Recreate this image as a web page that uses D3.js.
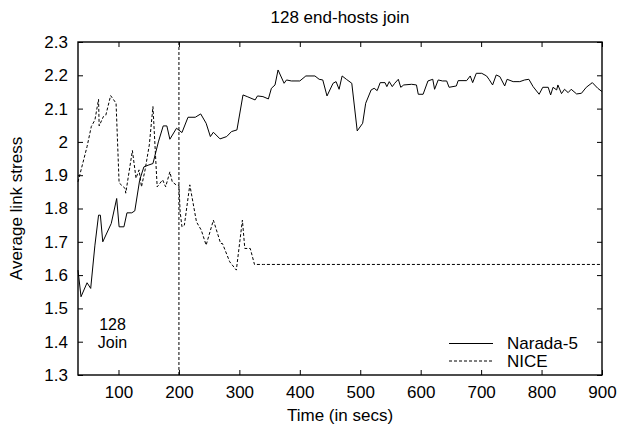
<!DOCTYPE html>
<html><head><meta charset="utf-8">
<script src="https://cdn.jsdelivr.net/npm/d3@7"></script>
<style>
html,body{margin:0;padding:0;background:#fff;}
svg{display:block;}
text{font-family:"Liberation Sans",Arial,Helvetica,sans-serif;fill:#000;}
</style></head>
<body>
<svg id="chart" width="618" height="428"></svg>
<script>
const title = "128 end-hosts join";
const xLabel = "Time (in secs)";
const yLabel = "Average link stress";
const xTicks = [100,200,300,400,500,600,700,800,900];
const yTicks = [1.3,1.4,1.5,1.6,1.7,1.8,1.9,2.0,2.1,2.2,2.3];
const yTickLabels = ["1.3","1.4","1.5","1.6","1.7","1.8","1.9","2","2.1","2.2","2.3"];
const seriesNames = ["Narada-5","NICE"];
const joinTime = 200;
const joinLabel = ["128","Join"];

const naradaT = [33,38,48,54,61,67,70,74,88,97,101,109,114,122,127,135,142,149,157,166,174,180,185,196,205,215,227,236,245,252,257,268,279,287,296,306,313,326,330,339,348,353,359,364,374,378,386,400,410,425,432,438,445,455,460,465,470,477,486,495,504,509,518,523,528,533,541,544,548,553,557,563,567,572,585,593,596,604,612,620,623,629,636,643,647,659,662,676,682,686,692,701,709,713,719,725,731,739,743,753,764,772,779,786,796,802,811,815,819,825,827,833,838,844,849,858,866,874,884,893,900];
const naradaV = [1.615,1.535,1.577,1.560,1.690,1.780,1.780,1.700,1.755,1.830,1.745,1.745,1.787,1.787,1.793,1.885,1.925,1.930,1.935,2.000,2.048,2.048,2.008,2.041,2.028,2.074,2.074,2.084,2.056,2.016,2.029,2.009,2.016,2.031,2.036,2.141,2.136,2.126,2.138,2.136,2.129,2.161,2.171,2.216,2.176,2.186,2.183,2.183,2.198,2.198,2.188,2.186,2.138,2.176,2.181,2.158,2.198,2.188,2.176,2.033,2.056,2.116,2.156,2.161,2.154,2.178,2.178,2.166,2.181,2.166,2.176,2.188,2.164,2.171,2.173,2.171,2.143,2.143,2.183,2.188,2.158,2.186,2.183,2.183,2.164,2.168,2.184,2.184,2.198,2.178,2.206,2.206,2.198,2.188,2.171,2.201,2.196,2.168,2.188,2.181,2.181,2.186,2.188,2.166,2.143,2.164,2.164,2.141,2.164,2.156,2.171,2.145,2.158,2.148,2.158,2.144,2.146,2.164,2.178,2.161,2.151];

const niceT = [33,48,55,61,67,68,75,79,87,96,101,111,112,123,129,134,138,144,151,157,164,173,178,185,189,196,200,202,205,209,218,229,237,245,257,269,272,284,295,305,309,318,325,340,900];
const niceV = [1.880,1.986,2.046,2.066,2.128,2.048,2.076,2.080,2.139,2.116,1.877,1.860,1.846,1.974,1.891,1.916,1.865,1.916,1.991,2.106,1.865,1.886,1.865,1.910,1.880,1.870,1.870,1.790,1.745,1.750,1.871,1.760,1.735,1.690,1.765,1.695,1.695,1.640,1.615,1.765,1.680,1.680,1.632,1.632,1.632];

const svg = d3.select("#chart");
const L = 78, R = 602, T = 42, B = 375;
const x = d3.scaleLinear().domain([33,900]).range([L,R]);
const y = d3.scaleLinear().domain([1.3,2.3]).range([B,T]);
const FS = 17;

// axes with inward ticks
const gx = svg.append("g").attr("transform",`translate(0,${B})`)
  .call(d3.axisBottom(x).tickValues(xTicks).tickSize(-5).tickPadding(11).tickFormat(d3.format("d")));
const gxt = svg.append("g").attr("transform",`translate(0,${T})`)
  .call(d3.axisTop(x).tickValues(xTicks).tickSize(-5).tickFormat(""));
const gy = svg.append("g").attr("transform",`translate(${L},0)`)
  .call(d3.axisLeft(y).tickValues(yTicks).tickSize(-5).tickPadding(10).tickFormat((d,i)=>yTickLabels[i]));
const gyr = svg.append("g").attr("transform",`translate(${R},0)`)
  .call(d3.axisRight(y).tickValues(yTicks).tickSize(-5).tickFormat(""));
[gx,gxt,gy,gyr].forEach(g=>{
  g.select(".domain").remove();
  g.selectAll("line").attr("stroke","#000").attr("stroke-width",1);
  g.selectAll("text").attr("font-size",FS).attr("font-family",null).attr("fill","#000");
});

// frame
svg.append("rect").attr("x",L).attr("y",T).attr("width",R-L).attr("height",B-T)
  .attr("fill","none").attr("stroke","#000").attr("stroke-width",1.4);

// join marker
svg.append("line").attr("x1",x(joinTime)).attr("x2",x(joinTime)).attr("y1",T).attr("y2",B)
  .attr("stroke","#000").attr("stroke-width",1).attr("stroke-dasharray","3,2");

const line = d3.line().x(d=>x(d[0])).y(d=>y(d[1]));
const narada = naradaT.map((t,i)=>[t,naradaV[i]]);
const nice = niceT.map((t,i)=>[t,niceV[i]]);
svg.append("path").datum(nice).attr("d",line).attr("fill","none").attr("stroke","#000")
  .attr("stroke-width",1).attr("stroke-dasharray","3,2");
svg.append("path").datum(narada).attr("d",line).attr("fill","none").attr("stroke","#000")
  .attr("stroke-width",1);

// texts
svg.append("text").attr("x",(L+R)/2).attr("y",23).attr("text-anchor","middle").attr("font-size",FS).text(title);
svg.append("text").attr("x",(L+R)/2).attr("y",421).attr("text-anchor","middle").attr("font-size",FS).text(xLabel);
svg.append("text").attr("transform",`translate(22,${(T+B)/2}) rotate(-90)`).attr("text-anchor","middle").attr("font-size",FS).text(yLabel);
svg.append("text").attr("x",112.5).attr("y",330).attr("text-anchor","middle").attr("font-size",16).text(joinLabel[0]);
svg.append("text").attr("x",112.5).attr("y",348).attr("text-anchor","middle").attr("font-size",16).text(joinLabel[1]);

// legend
const leg = [{name:seriesNames[0],dash:null,ly:343.5,ty:348.5},{name:seriesNames[1],dash:"3,2",ly:361,ty:366.5}];
leg.forEach(l=>{
  svg.append("line").attr("x1",449).attr("x2",493).attr("y1",l.ly).attr("y2",l.ly)
    .attr("stroke","#000").attr("stroke-width",1).attr("stroke-dasharray",l.dash);
  svg.append("text").attr("x",507).attr("y",l.ty).attr("font-size",FS).text(l.name);
});
</script>
</body></html>
